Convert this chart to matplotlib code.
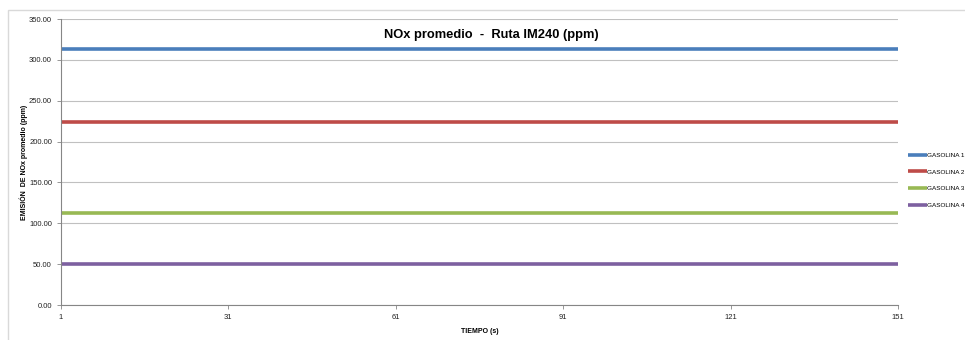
import matplotlib

matplotlib.use("Agg")

import matplotlib.pyplot as plt
from matplotlib.patches import Rectangle
import numpy as np

plt.rcParams["font.family"] = ["Liberation Sans Narrow", "Liberation Sans", "DejaVu Sans"]

# data
time_s = np.arange(1, 152)
series_names = ["GASOLINA 1", "GASOLINA 2", "GASOLINA 3", "GASOLINA 4"]
series_levels = [313.0, 223.5, 113.0, 50.5]
series_colors = ["#4a7ebb", "#be4b48", "#98b954", "#7d60a0"]
x_ticks = [1, 31, 61, 91, 121, 151]
y_ticks = [0, 50, 100, 150, 200, 250, 300, 350]

fig = plt.figure(figsize=(9.65, 3.4), dpi=100)
ax = fig.add_axes([61 / 965, 35 / 340, 837 / 965, 286 / 340])

# outer chart border
fig.add_artist(Rectangle((8 / 965, -0.2), 1.2, 1.2 - 10 / 340,
                         transform=fig.transFigure, fill=False,
                         edgecolor="#d9d9d9", linewidth=1.0))

for name, level, color in zip(series_names, series_levels, series_colors):
    ax.plot(time_s, [level] * len(time_s), color=color, linewidth=2.6,
            label=name, solid_capstyle="butt")

ax.set_xlim(1, 151)
ax.set_ylim(0, 350)
ax.set_xticks(x_ticks)
ax.set_yticks(y_ticks)
ax.set_yticklabels([f"{v:.2f}" for v in y_ticks])
ax.yaxis.grid(True, color="#c0c0c0", linewidth=0.8)
ax.set_axisbelow(True)
for side in ("top", "right"):
    ax.spines[side].set_visible(False)
for side in ("left", "bottom"):
    ax.spines[side].set_color("#868686")
ax.tick_params(axis="both", labelsize=5.5, colors="#868686", labelcolor="#222222",
               length=3, width=0.6)

fig.text(491 / 965, 1 - 35 / 340, "NOx promedio  -  Ruta IM240 (ppm)",
         fontsize=9.3, fontweight="bold", ha="center", va="center")
ax.set_xlabel("TIEMPO (s)", fontsize=5, fontweight="bold", labelpad=5)
ax.set_ylabel("EMISIÓN  DE NOx promedio (ppm)", fontsize=5, fontweight="bold",
              labelpad=1)

fig.legend(loc="upper left", bbox_to_anchor=(905 / 965, 1 - 150 / 340),
           frameon=False, fontsize=4.6, handlelength=3.0, handletextpad=0.1,
           labelspacing=1.75, borderaxespad=0)

fig.savefig("out.png", format="png")
plt.close(fig)
